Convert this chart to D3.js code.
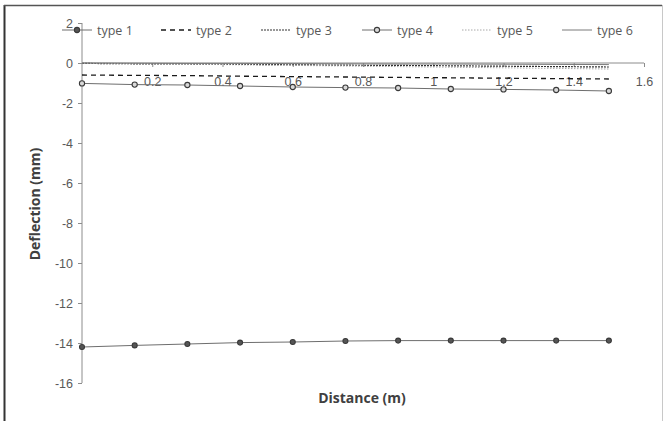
<!DOCTYPE html>
<html>
<head>
<meta charset="utf-8">
<script src="https://cdn.jsdelivr.net/npm/d3@7"></script>
<style>
  body { margin: 0; background: #fff; }
  svg { display: block; font-family: "Open Sans", "Liberation Sans", sans-serif; }
</style>
</head>
<body>
<svg id="chart"></svg>
<script>
// distance along the member (m)
let distance = [0, 0.15, 0.3, 0.45, 0.6, 0.75, 0.9, 1.05, 1.2, 1.35, 1.5]

// deflection per type (mm)
let type1 = [-14.2, -14.12, -14.05, -13.98, -13.95, -13.9, -13.88, -13.88, -13.88, -13.88, -13.88]
let type2 = [-0.6, -0.62, -0.63, -0.66, -0.68, -0.7, -0.72, -0.74, -0.76, -0.78, -0.8]
let type3 = [-0.02, -0.04, -0.05, -0.07, -0.09, -0.11, -0.12, -0.14, -0.16, -0.18, -0.2]
let type4 = [-1.02, -1.08, -1.1, -1.15, -1.2, -1.23, -1.25, -1.3, -1.32, -1.35, -1.4]
let type5 = [0, -0.03, -0.06, -0.09, -0.12, -0.15, -0.18, -0.21, -0.24, -0.27, -0.3]
let type6 = [0, -0.01, -0.02, -0.02, -0.03, -0.04, -0.05, -0.05, -0.06, -0.07, -0.08]

let seriesNames = ['type 1', 'type 2', 'type 3', 'type 4', 'type 5', 'type 6']
let xTicks = [0.2, 0.4, 0.6, 0.8, 1, 1.2, 1.4, 1.6]
let yTicks = [2, 0, -2, -4, -6, -8, -10, -12, -14, -16]

let width = 666
let height = 421

let series = [
    {name: seriesNames[0], values: type1, stroke: '#6e6e6e', dash: null, width: 1, marker: 'filled'},
    {name: seriesNames[1], values: type2, stroke: '#1a1a1a', dash: '5,4', width: 1.3, marker: null},
    {name: seriesNames[2], values: type3, stroke: '#333', dash: '2,1', width: 1.2, marker: null},
    {name: seriesNames[3], values: type4, stroke: '#6e6e6e', dash: null, width: 1, marker: 'hollow'},
    {name: seriesNames[4], values: type5, stroke: '#a8a8a8', dash: '1.5,1.5', width: 1, marker: null},
    {name: seriesNames[5], values: type6, stroke: '#7a7a7a', dash: null, width: 1, marker: null}
]

let svg = d3.select('#chart')
    .attr('width', width)
    .attr('height', height)

// outer frame
svg.append('rect')
   .attr('x', 4.5).attr('y', 5.5)
   .attr('width', 658).attr('height', 430)
   .attr('fill', 'none')
   .attr('stroke', '#c8c8c8')
svg.append('line')
   .attr('x1', 4.5).attr('x2', 4.5).attr('y1', 5).attr('y2', height)
   .attr('stroke', '#333').attr('stroke-width', 2)
svg.append('line')
   .attr('x1', 4).attr('x2', 662).attr('y1', 5.5).attr('y2', 5.5)
   .attr('stroke', '#555').attr('stroke-width', 1.5)

let xScale = d3.scaleLinear().domain([0, 1.6]).range([82, 644])
let yScale = d3.scaleLinear().domain([-16, 2]).range([383, 23])

// y axis
let yAxis = d3.axisLeft(yScale)
    .tickValues(yTicks)
    .tickSize(4)
    .tickFormat(d3.format('d'))

let gy = svg.append('g')
    .attr('transform', 'translate(' + xScale(0) + ',0)')
    .call(yAxis)
gy.select('.domain').attr('stroke', '#8c8c8c').attr('d', 'M0,' + yScale(2) + 'V' + yScale(-16))
gy.selectAll('.tick line').attr('stroke', '#8c8c8c')
gy.selectAll('.tick text')
  .attr('x', -9)
  .attr('fill', '#595959')
  .style('font-size', '12.5px')
  .text((d) => d < 0 ? '-' + Math.abs(d) : d)

// x axis sits on y = 0
let xAxis = d3.axisBottom(xScale)
    .tickValues(xTicks)
    .tickSize(4)
    .tickFormat((d) => d)

let gx = svg.append('g')
    .attr('transform', 'translate(0,' + yScale(0) + ')')
    .call(xAxis)
gx.select('.domain').attr('stroke', '#8c8c8c').attr('d', 'M' + xScale(0) + ',0H' + xScale(1.6))
gx.selectAll('.tick line').attr('stroke', '#8c8c8c')
gx.selectAll('.tick text')
  .attr('y', 14)
  .attr('fill', '#595959')
  .style('font-size', '12.5px')

// lines
let line = d3.line()
    .x((d, i) => xScale(distance[i]))
    .y((d) => yScale(d))

series.forEach((s) => {
    svg.append('path')
       .datum(s.values)
       .attr('d', line)
       .attr('fill', 'none')
       .attr('stroke', s.stroke)
       .attr('stroke-width', s.width)
       .attr('stroke-dasharray', s.dash)

    if (s.marker) {
        svg.selectAll(null)
           .data(s.values)
           .enter()
           .append('circle')
           .attr('cx', (d, i) => xScale(distance[i]))
           .attr('cy', (d) => yScale(d))
           .attr('r', s.marker === 'filled' ? 2.5 : 2.6)
           .attr('fill', s.marker === 'filled' ? '#555' : '#d9d9d9')
           .attr('stroke', '#3a3a3a')
           .attr('stroke-width', 1.1)
    }
})

// legend
let legendX = [97, 196, 296, 397, 497, 597]
let legendY = 30

let legend = svg.selectAll('.legend')
    .data(series)
    .enter()
    .append('g')
    .attr('class', 'legend')
    .attr('transform', (d, i) => 'translate(' + legendX[i] + ',' + legendY + ')')

legend.append('line')
      .attr('x1', -35).attr('x2', -5)
      .attr('y1', 0).attr('y2', 0)
      .attr('stroke', (d) => d.stroke)
      .attr('stroke-width', (d) => d.width)
      .attr('stroke-dasharray', (d) => d.dash)

legend.filter((d) => d.marker)
      .append('circle')
      .attr('cx', -20).attr('cy', 0)
      .attr('r', 2.6)
      .attr('fill', (d) => d.marker === 'filled' ? '#555' : '#d9d9d9')
      .attr('stroke', '#3a3a3a')
      .attr('stroke-width', 1.1)

legend.append('text')
      .attr('x', 0)
      .attr('y', 4.5)
      .attr('fill', '#595959')
      .style('font-size', '12.5px')
      .text((d) => d.name)

// axis titles
svg.append('text')
   .attr('x', 362)
   .attr('y', 403)
   .attr('text-anchor', 'middle')
   .attr('fill', '#404040')
   .style('font-size', '14px')
   .style('font-weight', 'bold')
   .text('Distance (m)')

svg.append('text')
   .attr('transform', 'translate(40,204) rotate(-90)')
   .attr('text-anchor', 'middle')
   .attr('fill', '#404040')
   .style('font-size', '14px')
   .style('font-weight', 'bold')
   .text('Deflection (mm)')
</script>
</body>
</html>
